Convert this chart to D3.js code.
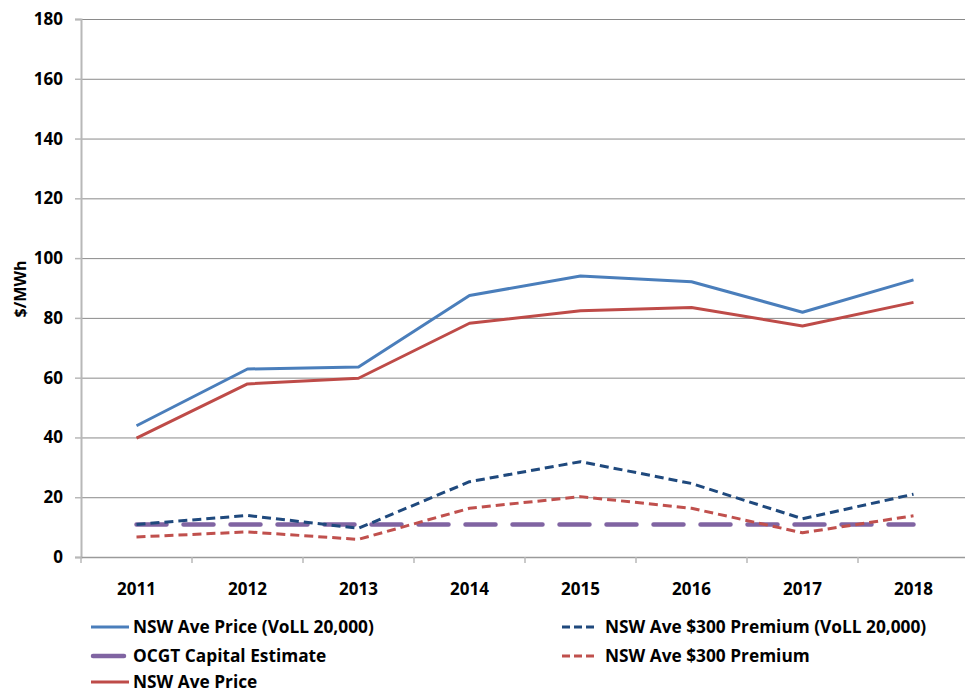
<!DOCTYPE html>
<html><head><meta charset="utf-8">
<script src="https://cdn.jsdelivr.net/npm/d3@7"></script>
<style>
body{margin:0;background:#fff;}
text{font-family:"Liberation Sans Narrow","Open Sans",Arial,sans-serif;font-weight:bold;fill:#000;}
</style></head><body>
<svg id="c" width="965" height="695"></svg>
<script>
const years = ["2011","2012","2013","2014","2015","2016","2017","2018"];
const yTicks = [0,20,40,60,80,100,120,140,160,180];
const nswAvePriceVoLL = [43.9,62.9,63.6,87.5,94.0,92.1,81.9,92.7];
const nswAvePrice = [39.8,57.9,59.8,78.2,82.4,83.5,77.3,85.2];
const nswPremiumVoLL = [10.9,13.9,9.6,25.2,31.9,24.6,12.8,21.0];
const nswPremium = [6.7,8.4,5.9,16.3,20.2,16.3,8.1,13.8];
const ocgtCapital = [10.9,10.9,10.9,10.9,10.9,10.9,10.9,10.9];

const series = [
  {name:"NSW Ave Price (VoLL 20,000)", values:nswAvePriceVoLL, color:"#4A7EBB", width:3, dash:null, legDash:null, cap:"butt"},
  {name:"NSW Ave $300 Premium (VoLL 20,000)", values:nswPremiumVoLL, color:"#1F497D", width:3, dash:"9,5", legDash:"8,4", cap:"butt"},
  {name:"OCGT Capital Estimate", values:ocgtCapital, color:"#8064A2", width:4.5, dash:"30,17", legDash:null, cap:"round"},
  {name:"NSW Ave $300 Premium", values:nswPremium, color:"#C0504D", width:3, dash:"9,5", legDash:"8,4", cap:"butt"},
  {name:"NSW Ave Price", values:nswAvePrice, color:"#BE4B48", width:3, dash:null, legDash:null, cap:"butt"}
];

const svg = d3.select("#c");
const pLeft = 81, pRight = 969, pTop = 19, pBottom = 557;
const x = d3.scaleBand().domain(years).range([pLeft,pRight]);
const y = d3.scaleLinear().domain([0,180]).range([pBottom,pTop]);
const FF = '"Liberation Sans Narrow","Open Sans",Arial,sans-serif';

// gridlines
svg.append("g").selectAll("line").data(yTicks.filter(d=>d>0)).join("line")
  .attr("x1",pLeft).attr("x2",pRight).attr("y1",d=>y(d)+0.5).attr("y2",d=>y(d)+0.5)
  .attr("stroke","#8a8a8a").attr("stroke-width",1);

// y axis
const ya = svg.append("g").attr("transform",`translate(${pLeft},0)`)
  .call(d3.axisLeft(y).tickValues(yTicks).tickSize(6).tickPadding(12));
ya.select(".domain").attr("stroke","#b8b8b8").attr("stroke-width",2);
ya.selectAll(".tick line").attr("stroke","#b8b8b8").attr("stroke-width",1.5);
ya.selectAll(".tick text").attr("font-size",17).attr("fill","#000")
  .attr("font-family",FF).attr("font-weight","bold");

// x axis
const xa = svg.append("g").attr("transform",`translate(0,${pBottom})`)
  .call(d3.axisBottom(x).tickSize(0).tickPadding(26));
xa.select(".domain").attr("stroke","#9a9a9a").attr("stroke-width",1.5);
xa.selectAll(".tick text").attr("font-size",17).attr("fill","#000")
  .attr("font-family",FF).attr("font-weight","bold");
svg.append("g").selectAll("line").data(years.concat(["end"])).join("line")
  .attr("x1",(d,i)=>pLeft+i*x.bandwidth()).attr("x2",(d,i)=>pLeft+i*x.bandwidth())
  .attr("y1",pBottom).attr("y2",pBottom+6).attr("stroke","#b8b8b8").attr("stroke-width",1.5);

// y title
svg.append("text").attr("transform",`translate(26,289) rotate(-90)`)
  .attr("text-anchor","middle").attr("font-size",16).text("$/MWh");

// lines
const line = d3.line().x((d,i)=>x(years[i])+x.bandwidth()/2).y(d=>y(d));
const drawOrder = [2,1,3,0,4];
drawOrder.forEach(k=>{
  const s = series[k];
  svg.append("path").datum(s.values).attr("d",line)
    .attr("fill","none").attr("stroke",s.color).attr("stroke-width",s.width)
    .attr("stroke-dasharray",s.dash).attr("stroke-linecap",s.cap).attr("stroke-linejoin","round");
});

// legend
const legendPos = [
  {x1:91,x2:129,tx:133,y:627},
  {x1:562,x2:596,tx:605,y:627},
  {x1:93,x2:124,tx:133,y:656},
  {x1:562,x2:596,tx:605,y:656},
  {x1:91,x2:129,tx:133,y:682}
];
series.forEach((s,i)=>{
  const p = legendPos[i];
  svg.append("line").attr("x1",p.x1).attr("x2",p.x2).attr("y1",p.y).attr("y2",p.y)
    .attr("stroke",s.color).attr("stroke-width",s.width)
    .attr("stroke-dasharray",s.legDash).attr("stroke-linecap",s.cap);
  svg.append("text").attr("x",p.tx).attr("y",p.y).attr("dy","0.35em")
    .attr("font-size",17.3).text(s.name);
});
</script></body></html>
